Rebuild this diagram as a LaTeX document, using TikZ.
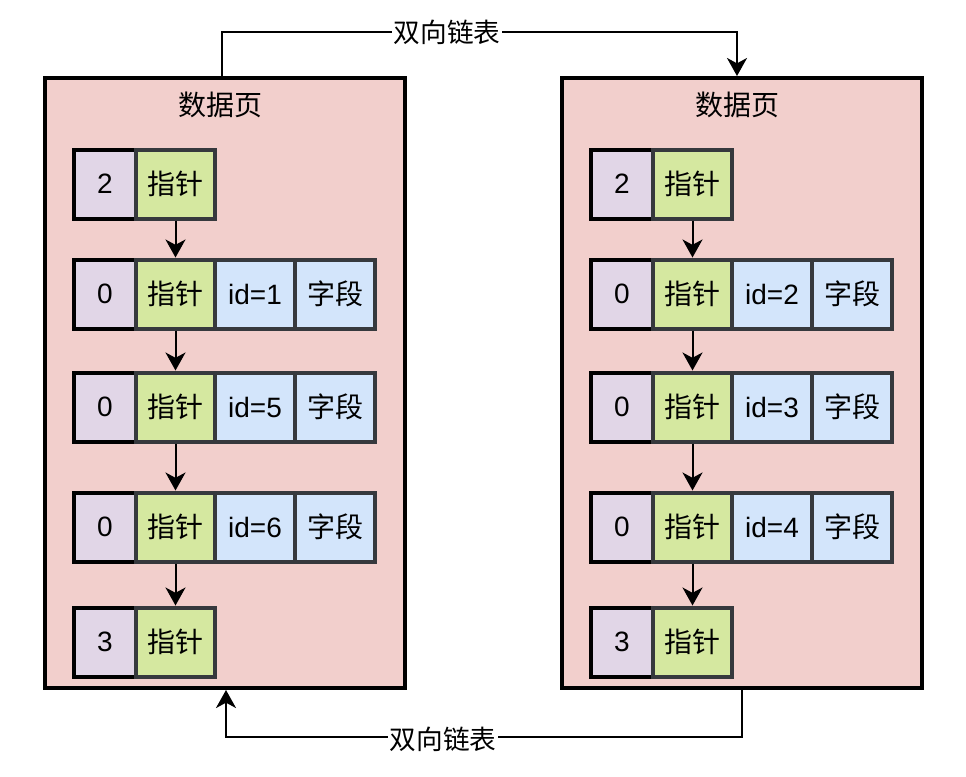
\documentclass[tikz,border=0pt]{standalone}
\usepackage{fontspec}
\setmainfont{Liberation Sans}
\newfontfamily\cjk{Noto Sans CJK SC}
\usetikzlibrary{arrows.meta}
\definecolor{pagefill}{HTML}{F2CFCC}
\definecolor{purplefill}{HTML}{E1D6E7}
\definecolor{greenfill}{HTML}{D5E8A0}
\definecolor{bluefill}{HTML}{D3E5FB}
\definecolor{cellline}{HTML}{36393D}
\tikzset{
  pagebox/.style={draw=black, line width=3pt, fill=pagefill, minimum width=360*0.75pt, minimum height=610*0.75pt, inner sep=0pt},
  titletext/.style={font=\fontsize{21}{25}\selectfont\cjk, inner sep=0pt},
  cellbase/.style={line width=3pt, minimum height=69*0.75pt, inner sep=0pt, font=\fontsize{21}{25}\selectfont},
  pcell/.style={cellbase, draw=black, fill=purplefill, minimum width=62*0.75pt},
  gcell/.style={cellbase, draw=cellline, fill=greenfill, minimum width=79*0.75pt},
  bcell/.style={cellbase, draw=cellline, fill=bluefill, minimum width=80*0.75pt},
  arr/.style={draw=black, line width=1.5pt, -{Stealth[length=13.5pt,width=15pt,inset=4pt]}},
  lbl/.style={fill=white, inner sep=1pt, font=\fontsize{20}{24}\selectfont\cjk},
}
\newcommand\shortrow[3]{% name, y, number
  \node[pcell] (#1a) at (105,#2) {#3};
  \node[gcell] (#1b) at (175.5,#2) {\cjk 指针};
}
\newcommand\fullrow[4]{% name, y, number, id
  \node[pcell] (#1a) at (105,#2) {#3};
  \node[gcell] (#1b) at (175.5,#2) {\cjk 指针};
  \node[bcell] (#1c) at (255,#2) {id=#4};
  \node[bcell] (#1d) at (335,#2) {\cjk 字段};
}
\newcommand\pagecontent[4]{% prefix, id1, id2, id3
  \node[pagebox] (#1page) at (225,383) {};
  \node[titletext] (#1title) at (220,105) {数据页};
  \shortrow{#1r1}{184}{2}
  \fullrow{#1r2}{294}{0}{#2}
  \fullrow{#1r3}{407}{0}{#3}
  \fullrow{#1r4}{527}{0}{#4}
  \shortrow{#1r5}{642}{3}
  \draw[arr] (#1r1b.south) -- (#1r2b.north);
  \draw[arr] (#1r2b.south) -- (#1r3b.north);
  \draw[arr] (#1r3b.south) -- (#1r4b.north);
  \draw[arr] (#1r4b.south) -- (#1r5b.north);
}
\begin{document}
\begin{tikzpicture}[x=0.75pt,y=-0.75pt]
\useasboundingbox (0,0) rectangle (966,776);
\begin{scope}
  \pagecontent{L}{1}{5}{6}
\end{scope}
\begin{scope}[shift={(517,0)}]
  \pagecontent{R}{2}{3}{4}
\end{scope}
% top connector
\coordinate (t1) at (222,32);
\coordinate (t2) at (737,32);
\draw[arr] (Lpage.north -| t1) -- (t1) -- (t2) -- (Rpage.north -| t2);
\node[lbl] (toplbl) at (447,32) {双向链表};
% bottom connector
\coordinate (b1) at (742,737);
\coordinate (b2) at (226,737);
\draw[arr] (Rpage.south -| b1) -- (b1) -- (b2) -- (Lpage.south -| b2);
\node[lbl] (botlbl) at (443,739) {双向链表};
\end{tikzpicture}
\end{document}
